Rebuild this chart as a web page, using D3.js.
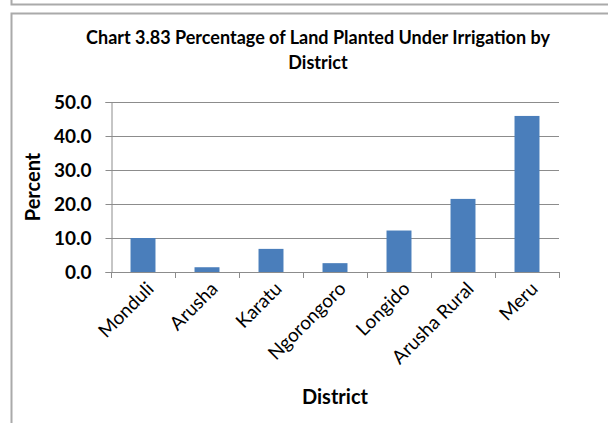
<!DOCTYPE html>
<html><head><meta charset="utf-8">
<script src="https://cdn.jsdelivr.net/npm/d3@7"></script>
<style>body{margin:0;background:#fff}svg{display:block}</style>
</head><body><svg id="c" width="608" height="423"></svg>
<script>
const categories = ["Monduli","Arusha","Karatu","Ngorongoro","Longido","Arusha Rural","Meru"];
const values = [10.0, 1.4, 6.8, 2.6, 12.2, 21.5, 45.9];
const yTicks = [0,10,20,30,40,50];
const titleLines = ["Chart 3.83 Percentage of Land Planted Under Irrigation by","District"];
const xTitle = "District", yTitle = "Percent";

const svg = d3.select("#c");
const font = "Lato, 'Open Sans', sans-serif";
// frame lines
svg.append("path").attr("d","M11.5,0V4.5H608").attr("fill","none").attr("stroke","#aaa").attr("stroke-width",2);
svg.append("path").attr("d","M608,13.5H11.5V423").attr("fill","none").attr("stroke","#aaa").attr("stroke-width",2);

const m = {l:111, r:559, t:102, b:272};
const x = d3.scaleBand().domain(categories).range([m.l,m.r]).paddingInner(0.61).paddingOuter(0.305);
const y = d3.scaleLinear().domain([0,50]).range([m.b,m.t]);

// gridlines
svg.append("g").selectAll("line").data(yTicks.filter(d=>d>0)).join("line")
  .attr("x1",m.l).attr("x2",m.r).attr("y1",d=>Math.round(y(d))+0.5).attr("y2",d=>Math.round(y(d))+0.5)
  .attr("stroke","#8c8c8c").attr("stroke-width",1);

// bars
svg.append("g").selectAll("rect").data(values).join("rect")
  .attr("x",(d,i)=>x(categories[i])).attr("width",x.bandwidth())
  .attr("y",d=>y(d)).attr("height",d=>y(0)-y(d)).attr("fill","#4a7ebb");

// y axis
const ya = svg.append("g").attr("transform",`translate(${m.l+0.5},0)`)
  .call(d3.axisLeft(y).tickValues(yTicks).tickFormat(d3.format(".1f")).tickSize(6).tickPadding(14));
ya.select(".domain").attr("stroke","#8c8c8c");
ya.selectAll(".tick line").attr("stroke","#8c8c8c");
ya.selectAll("text").attr("font-family",font).attr("font-size",19).attr("font-weight","bold").attr("fill","#000");

// x axis: ticks at boundaries
const step = x.step();
const bounds = d3.range(categories.length+1).map(i=>m.l+i*step);
svg.append("line").attr("x1",m.l).attr("x2",m.r).attr("y1",m.b+0.5).attr("y2",m.b+0.5).attr("stroke","#8c8c8c");
svg.append("g").selectAll("line").data(bounds).join("line")
  .attr("x1",d=>Math.round(d)+0.5).attr("x2",d=>Math.round(d)+0.5).attr("y1",m.b).attr("y2",m.b+6).attr("stroke","#8c8c8c");
svg.append("g").selectAll("text").data(categories).join("text")
  .attr("transform",d=>`translate(${x(d)+x.bandwidth()/2+12},${m.b+18}) rotate(-45)`)
  .attr("text-anchor","end").attr("font-family",font).attr("font-size",19).attr("fill","#000").text(d=>d);

// titles
svg.append("g").selectAll("text").data(titleLines).join("text")
  .attr("x",318).attr("y",(d,i)=>44+i*25).attr("text-anchor","middle")
  .attr("font-family",font).attr("font-size",18).attr("font-weight","bold").attr("fill","#000").text(d=>d);
svg.append("text").attr("x",(m.l+m.r)/2).attr("y",404).attr("text-anchor","middle")
  .attr("font-family",font).attr("font-size",20).attr("font-weight","bold").text(xTitle);
svg.append("text").attr("transform",`translate(40,${(m.t+m.b)/2}) rotate(-90)`).attr("text-anchor","middle")
  .attr("font-family",font).attr("font-size",20).attr("font-weight","bold").text(yTitle);
</script></body></html>
